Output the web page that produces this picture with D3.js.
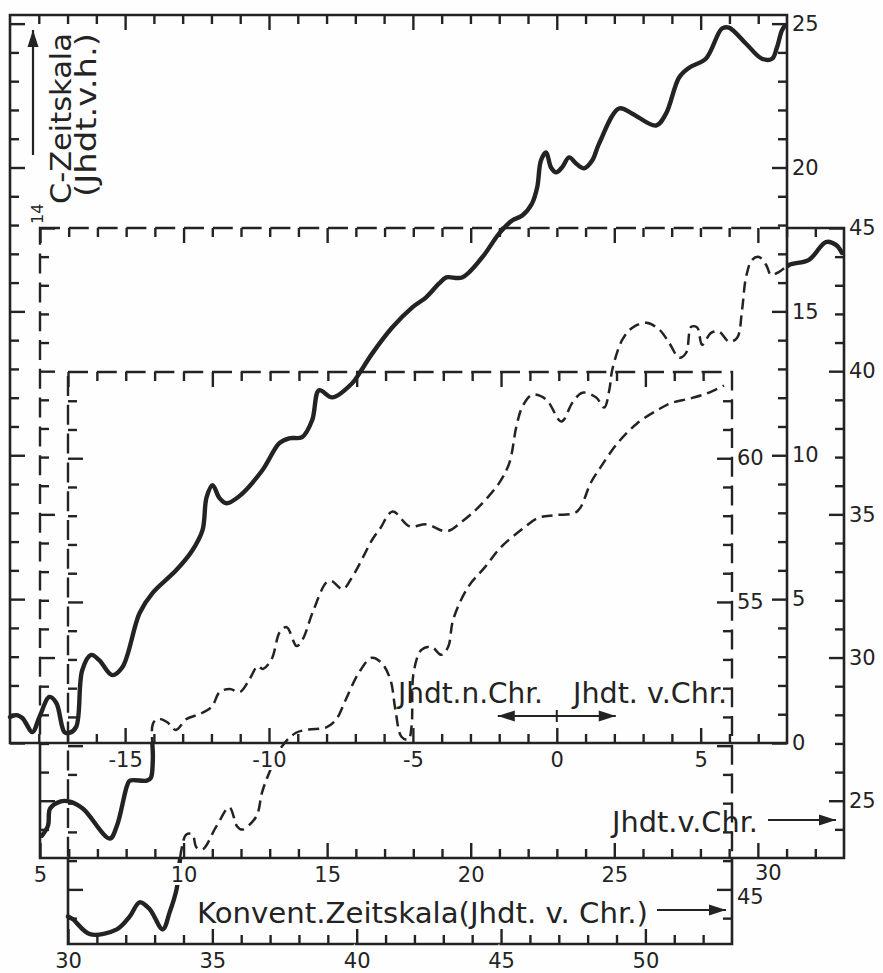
<!DOCTYPE html>
<html>
<head>
<meta charset="utf-8">
<script src="https://cdn.jsdelivr.net/npm/d3@7"></script>
<style>
  html, body { margin: 0; padding: 0; background: #fefefe; }
  svg { display: block; }
</style>
</head>
<body>
<svg id="chart" width="883" height="973"></svg>
<script>
// x = conventional time scale (centuries BC, negative = AD), y = 14C age (centuries before present)
const curve1 = [
  [-19.0, 0.9], [-18.78, 0.97], [-18.57, 0.87], [-18.22, 0.38], [-17.98, 0.9], [-17.63, 1.6],
  [-17.39, 1.39], [-17.11, 0.38], [-16.94, 0.35], [-16.7, 0.56], [-16.49, 2.53], [-16.18, 3.06],
  [-15.9, 2.88], [-15.45, 2.36], [-15.09, 2.64], [-14.5, 4.51], [-14.05, 5.21], [-13.22, 6.01],
  [-12.66, 6.7], [-12.31, 7.4], [-12.17, 8.54], [-11.96, 8.96], [-11.72, 8.51], [-11.48, 8.33],
  [-11.03, 8.58], [-10.23, 9.48], [-9.64, 10.42], [-9.3, 10.59], [-8.85, 10.63], [-8.5, 11.22],
  [-8.26, 12.26], [-7.8, 12.01], [-7.11, 12.5], [-6.86, 12.85], [-6.41, 13.54], [-5.72, 14.44],
  [-5.02, 15.14], [-4.54, 15.49], [-4.09, 15.97], [-3.84, 16.18], [-3.29, 16.18], [-2.59, 16.88],
  [-2.0, 17.71], [-1.55, 18.16], [-1.2, 18.33], [-0.86, 18.75], [-0.68, 19.31], [-0.55, 20.24],
  [-0.37, 20.52], [-0.2, 20.0], [-0.02, 19.83], [0.18, 20.0], [0.43, 20.35], [0.67, 20.14],
  [0.95, 19.97], [1.23, 20.24], [1.47, 20.83], [2.16, 22.05], [2.61, 21.88], [3.45, 21.46],
  [3.8, 21.88], [4.25, 23.13], [4.6, 23.47], [5.18, 23.78], [5.74, 24.83], [5.98, 24.86],
  [6.57, 24.31], [7.13, 23.78], [7.48, 23.78], [7.65, 24.17], [7.82, 24.76], [7.93, 24.93]
];
const curve2 = [
  [5.07, 23.78], [5.28, 24.13], [5.35, 24.72], [5.7, 24.97], [6.04, 24.97], [6.5, 24.72],
  [7.43, 23.68], [7.68, 24.13], [8.03, 25.52], [8.13, 25.7], [8.72, 25.7], [8.86, 25.8],
  [8.93, 26.46], [8.93, 27.68], [9.1, 27.86], [9.42, 27.75], [9.73, 27.47], [10.11, 27.86],
  [10.57, 28.03], [10.98, 28.28], [11.26, 28.8], [11.61, 28.9], [11.96, 28.8], [12.3, 29.25],
  [12.58, 29.7], [12.76, 29.6], [13.07, 29.95], [13.35, 30.89], [13.59, 31.06], [13.94, 30.4],
  [14.15, 30.64], [14.5, 31.59], [14.98, 32.63], [15.16, 32.67], [15.54, 32.39], [15.89, 32.84],
  [16.58, 34.13], [16.83, 34.48], [17.28, 35.1], [17.87, 34.58], [18.46, 34.65], [19.16, 34.41],
  [19.71, 34.76], [20.3, 35.28], [21.0, 36.11], [21.35, 36.81], [21.59, 38.07], [21.8, 38.76],
  [22.15, 39.18], [22.63, 39.01], [23.16, 38.24], [23.54, 38.9], [23.89, 39.25], [24.37, 39.08],
  [24.65, 38.73], [24.83, 39.36], [24.93, 40.05], [25.28, 41.1], [25.63, 41.52], [26.11, 41.69],
  [26.57, 41.45], [26.91, 40.99], [27.26, 40.47], [27.5, 40.64], [27.68, 41.55], [27.89, 41.52],
  [28.06, 40.92], [28.37, 41.34], [28.65, 41.38], [29.0, 41.03], [29.28, 41.17], [29.45, 42.14],
  [29.59, 43.29], [29.8, 43.89], [30.04, 43.99], [30.29, 43.71], [30.46, 43.36], [30.74, 43.47],
  [31.09, 43.71], [31.78, 43.89], [32.37, 44.51], [32.72, 44.41], [32.93, 44.13]
];
const curve3 = [
  [30.0, 44.06], [30.17, 43.96], [30.76, 43.44], [31.69, 43.61], [32.14, 44.06], [32.48, 44.55],
  [32.83, 44.31], [33.28, 43.61], [33.52, 44.2], [33.76, 45.0], [33.93, 46.39], [34.1, 46.91],
  [34.31, 46.91], [34.45, 46.46], [34.66, 46.39], [35.14, 47.19], [35.59, 47.85], [35.86, 47.19],
  [36.03, 47.08], [36.52, 47.53], [36.72, 48.37], [36.97, 49.06], [37.41, 49.97], [37.9, 50.45],
  [38.34, 50.56], [38.93, 50.63], [39.28, 50.9], [39.62, 51.6], [40.07, 52.53], [40.52, 53.06],
  [40.86, 52.88], [41.17, 52.29], [41.34, 51.25], [41.55, 50.31], [41.79, 50.21], [41.9, 50.66],
  [41.97, 52.53], [42.24, 53.33], [42.59, 53.44], [42.93, 53.16], [43.17, 53.44], [43.34, 54.38],
  [43.86, 55.52], [44.45, 56.22], [45.0, 56.91], [45.69, 57.5], [46.28, 57.92], [46.86, 58.02],
  [47.55, 58.09], [47.76, 58.3], [48.1, 59.13], [48.45, 59.69], [49.03, 60.52], [49.72, 61.22],
  [50.41, 61.67], [50.86, 61.91], [51.55, 62.08], [52.14, 62.26], [52.72, 62.53]
];

const frame1XDomain = [-19, 8];
const frame1YDomain = [0, 25.3];
const frame2XDomain = [5, 33];
const frame2YDomain = [23, 45];
const frame3XDomain = [30, 53];
const frame3YDomain = [43.1, 63];

const frame1XLabels = [-15, -10, -5, 0, 5];
const frame1YLabels = [0, 5, 10, 15, 20, 25];
const frame2XLabels = [5, 10, 15, 20, 25, 30];
const frame2YLabels = [25, 30, 35, 40, 45];
const frame3XLabels = [30, 35, 40, 45, 50];
const frame3YLabels = [45, 55, 60];

const W = 883;
const H = 973;
const ink = '#232323';
const paper = '#fefefe';
const font = "'DejaVu Sans', sans-serif";

const svg = d3.select('#chart');
svg.append('rect').attr('width', W).attr('height', H).attr('fill', paper);
const defs = svg.append('defs');

const frames = [
  {
    x: d3.scaleLinear().domain(frame1XDomain).range([10, 787]),
    y: d3.scaleLinear().domain(frame1YDomain).range([743, 15]),
    xLabels: frame1XLabels, yLabels: frame1YLabels, data: curve1,
    xShift: {}, yShift: {}
  },
  {
    x: d3.scaleLinear().domain(frame2XDomain).range([40, 844]),
    y: d3.scaleLinear().domain(frame2YDomain).range([858, 228]),
    xLabels: frame2XLabels, yLabels: frame2YLabels, data: curve2,
    xShift: { 30: [10, -2] }, yShift: {}
  },
  {
    x: d3.scaleLinear().domain(frame3XDomain).range([68, 732]),
    y: d3.scaleLinear().domain(frame3YDomain).range([944, 372]),
    xLabels: frame3XLabels, yLabels: frame3YLabels, data: curve3,
    xShift: {}, yShift: { 45: [0, 7] }
  }
];

const box = f => ({
  left: f.x.range()[0], right: f.x.range()[1],
  top: f.y.range()[1], bottom: f.y.range()[0]
});

// parts of a later frame lying inside an earlier frame are drawn dashed, the rest solid
frames.forEach((f, i) => {
  const prev = frames.slice(0, i).map(box);
  const inside = defs.append('mask').attr('id', `in${i}`)
    .attr('maskUnits', 'userSpaceOnUse')
    .attr('x', 0).attr('y', 0).attr('width', W).attr('height', H);
  inside.append('rect').attr('width', W).attr('height', H).attr('fill', 'black');
  const outside = defs.append('mask').attr('id', `out${i}`)
    .attr('maskUnits', 'userSpaceOnUse')
    .attr('x', 0).attr('y', 0).attr('width', W).attr('height', H);
  outside.append('rect').attr('width', W).attr('height', H).attr('fill', 'white');
  prev.forEach(b => {
    inside.append('rect').attr('x', b.left).attr('y', b.top)
      .attr('width', b.right - b.left).attr('height', b.bottom - b.top).attr('fill', 'white');
    outside.append('rect').attr('x', b.left).attr('y', b.top)
      .attr('width', b.right - b.left).attr('height', b.bottom - b.top).attr('fill', 'black');
  });
});

// frame outlines
frames.forEach((f, i) => {
  const b = box(f);
  const d = `M${b.left},${b.top}H${b.right}V${b.bottom}H${b.left}Z`;
  svg.append('path').attr('d', d)
    .attr('fill', 'none').attr('stroke', ink).attr('stroke-width', 2.6)
    .attr('mask', `url(#out${i})`);
  svg.append('path').attr('d', d)
    .attr('fill', 'none').attr('stroke', ink).attr('stroke-width', 2.4)
    .attr('stroke-dasharray', '20 8.8')
    .attr('mask', `url(#in${i})`);
});

// curves
frames.forEach((f, i) => {
  const line = d3.line()
    .x(d => f.x(d[0]))
    .y(d => f.y(d[1]))
    .curve(d3.curveCatmullRom.alpha(0.5));
  svg.append('path').datum(f.data)
    .attr('fill', 'none').attr('stroke', ink).attr('stroke-width', 4.4)
    .attr('stroke-linejoin', 'round').attr('stroke-linecap', 'round')
    .attr('mask', `url(#out${i})`)
    .attr('d', line);
  svg.append('path').datum(f.data)
    .attr('fill', 'none').attr('stroke', ink).attr('stroke-width', 2.5)
    .attr('stroke-dasharray', '11 6')
    .attr('mask', `url(#in${i})`)
    .attr('d', line);
});

// ticks on all four sides, pointing inward, labels on bottom and right
const minorLen = 9;
const majorLen = 15;

const addAxis = (axis, tx, ty, shift = {}) => svg.append('g')
  .attr('transform', `translate(${tx},${ty})`)
  .call(axis)
  .call(g => g.select('.domain').remove())
  .attr('color', ink)
  .attr('font-size', 21)
  .attr('font-family', font)
  .call(g => g.selectAll('line').attr('stroke-width', 2.4))
  .call(g => g.selectAll('text')
    .attr('stroke', paper).attr('stroke-width', 6).attr('paint-order', 'stroke')
    .attr('transform', d => (shift[d] ? `translate(${shift[d][0]},${shift[d][1]})` : null)));

frames.forEach(f => {
  const b = box(f);
  const minors = s => {
    const [d0, d1] = s.domain();
    return d3.range(Math.floor(d0) + 1, Math.ceil(d1)).filter(d => d % 5 !== 0);
  };
  const majors = s => {
    const [d0, d1] = s.domain();
    return d3.range(Math.ceil(d0 / 5) * 5, d1 + 1e-9, 5);
  };
  const fmt = labels => d => (labels.includes(d) ? String(d) : '');

  [[minorLen, minors], [majorLen, majors]].forEach(([len, vals]) => {
    addAxis(d3.axisTop(f.x).tickValues(vals(f.x)).tickSize(-len).tickFormat(''), 0, b.top);
    addAxis(d3.axisLeft(f.y).tickValues(vals(f.y)).tickSize(-len).tickFormat(''), b.left, 0);
  });
  addAxis(d3.axisBottom(f.x).tickValues(minors(f.x)).tickSize(-minorLen).tickFormat(''), 0, b.bottom);
  addAxis(d3.axisRight(f.y).tickValues(minors(f.y)).tickSize(-minorLen).tickFormat(''), b.right, 0);
  addAxis(d3.axisBottom(f.x).tickValues(majors(f.x)).tickSize(-majorLen)
    .tickPadding(9).tickFormat(fmt(f.xLabels)), 0, b.bottom, f.xShift);
  addAxis(d3.axisRight(f.y).tickValues(majors(f.y)).tickSize(-majorLen)
    .tickPadding(5).tickFormat(fmt(f.yLabels)), b.right, 0, f.yShift);
});

// annotations
const arrowHead = (x, y, angle) => svg.append('path')
  .attr('d', 'M0,0L-17,-5.5L-17,5.5Z')
  .attr('transform', `translate(${x},${y}) rotate(${angle})`)
  .attr('fill', ink);

const arrow = (xa, ya, xb, yb, both) => {
  svg.append('line')
    .attr('x1', xa).attr('y1', ya).attr('x2', xb).attr('y2', yb)
    .attr('stroke', ink).attr('stroke-width', 2.2);
  const angle = Math.atan2(yb - ya, xb - xa) * 180 / Math.PI;
  arrowHead(xb, yb, angle);
  if (both) arrowHead(xa, ya, angle + 180);
};

const text = (str, x, y, len, size = 28) => svg.append('text')
  .attr('x', x).attr('y', y)
  .attr('font-family', font).attr('font-size', size)
  .attr('fill', ink)
  .attr('textLength', len).attr('lengthAdjust', 'spacingAndGlyphs')
  .text(str);

const x1 = frames[0].x;
text('Jhdt.n.Chr.', 398, 703, 145);
text('Jhdt. v.Chr.', 573, 703, 154);
arrow(x1(-2.05), 716, x1(2.05), 716, true);
svg.append('line')
  .attr('x1', x1(0)).attr('x2', x1(0)).attr('y1', 710).attr('y2', 722)
  .attr('stroke', ink).attr('stroke-width', 2);

text('Jhdt.v.Chr.', 612, 832, 146);
arrow(768, 820, 836, 820, false);

text('Konvent.Zeitskala(Jhdt. v. Chr.)', 197, 923, 451);
arrow(657, 910, 726, 910, false);

svg.append('text')
  .attr('transform', 'translate(43,224) rotate(-90)')
  .attr('font-family', font).attr('font-size', 16).attr('fill', ink)
  .text('14');
svg.append('text')
  .attr('transform', 'translate(71,204) rotate(-90)')
  .attr('font-family', font).attr('font-size', 28).attr('fill', ink)
  .attr('textLength', 171).attr('lengthAdjust', 'spacingAndGlyphs')
  .text('C-Zeitskala');
svg.append('text')
  .attr('transform', 'translate(96,197) rotate(-90)')
  .attr('font-family', font).attr('font-size', 28).attr('fill', ink)
  .attr('textLength', 164).attr('lengthAdjust', 'spacingAndGlyphs')
  .text('(Jhdt.v.h.)');
arrow(33, 155, 33, 30, false);
</script>
</body>
</html>
